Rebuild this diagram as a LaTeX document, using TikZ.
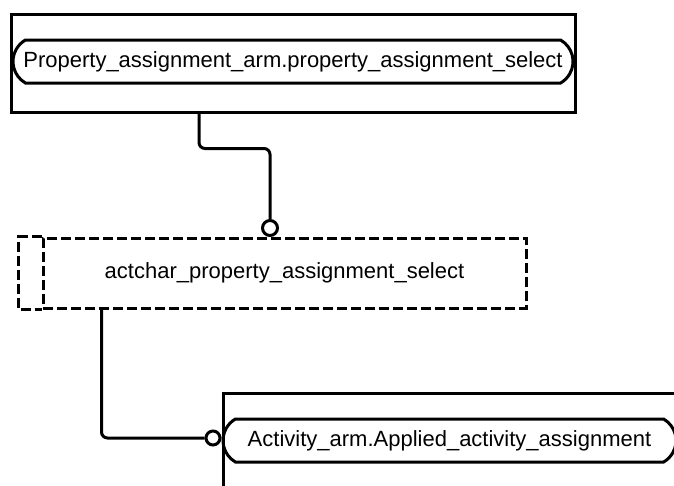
\documentclass[tikz,border=0pt]{standalone}
\usepackage{fontspec}
\setmainfont{Liberation Sans}
\usetikzlibrary{shapes.misc}

\begin{document}
\begin{tikzpicture}[x=1pt, y=-1pt, line width=3pt, font=\fontsize{22}{22}\selectfont,
    entity/.style={draw, rectangle, inner sep=0pt},
    attr/.style={draw, rounded rectangle, rounded rectangle arc length=120, inner sep=0pt, minimum height=43pt},
    selbox/.style={draw, dash pattern=on 10pt off 4pt, inner sep=0pt},
    ring/.style={draw, circle, inner sep=0pt, minimum size=15pt, fill=white},
    link/.style={rounded corners=6pt}]

\useasboundingbox (0,0) rectangle (674,485);
\clip (0,0) rectangle (674,485);

% Nodes
\node (propsel) [entity, minimum width=564pt, minimum height=98pt] at (293,63) {};
\node (propsel_name) [attr, minimum width=560pt] at (293,61.5) {Property\_assignment\_arm.property\_assignment\_select};

\node (actchar) [selbox, minimum width=483pt, minimum height=70pt] at (284.5,273) {actchar\_property\_assignment\_select};
\draw[dash pattern=on 10pt off 4pt] (actchar.north west) -- ++(-23,0) -- ([xshift=-23pt]actchar.south west) -- (actchar.south west);

\node (act) [entity, minimum width=500pt, minimum height=140pt] at (473,463) {};
\node (act_name) [attr, minimum width=453pt] at (449.5,440.5) {Activity\_arm.Applied\_activity\_assignment};

\node (o_top) [ring] at (270,228) {};
\node (o_act) [ring, minimum size=14pt] at (213,438) {};

% Connectors
\draw[link] ([xshift=-94pt]propsel.south) -- ++(0,35) -| (o_top.north);
\draw[link] ([xshift=60pt]actchar.south west) |- (o_act.west);

\end{tikzpicture}
\end{document}
